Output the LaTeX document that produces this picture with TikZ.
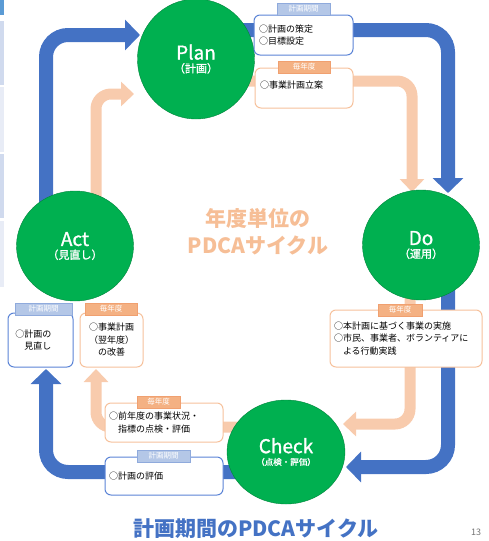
\documentclass[tikz,border=0pt]{standalone}
\usepackage{fontspec}
\setmainfont{Noto Sans CJK JP}
\newfontfamily\phasefont[FakeBold=1.2]{Noto Sans CJK JP}
\usetikzlibrary{arrows.meta,shapes.geometric}
\definecolor{pgreen}{HTML}{00B050}
\definecolor{pblue}{HTML}{4472C4}
\definecolor{porange}{HTML}{F8CBAD}
\definecolor{boxblue}{HTML}{5B84D6}
\definecolor{tagblue}{HTML}{B4C7E7}
\definecolor{tagblueline}{HTML}{8FAADC}
\definecolor{tagorange}{HTML}{F4B183}
\definecolor{tagorangeline}{HTML}{F0A070}
\definecolor{midorange}{HTML}{F6BE96}
\definecolor{stripA}{HTML}{D0DAEE}
\definecolor{stripB}{HTML}{E8ECF6}
\definecolor{stripTop}{HTML}{5B9BD5}
\begin{document}
\begin{tikzpicture}[x=1pt,y=-1pt,
  bluearrow/.style={draw=pblue,line width=14pt,rounded corners=22pt,
    -{Triangle[width=30pt,length=15pt]}},
  orangearrow/.style={draw=porange,line width=11pt,rounded corners=15pt,
    -{Triangle[width=24pt,length=13pt]}},
  phase/.style={ellipse,fill=pgreen,draw=pgreen!75!black,line width=0.4pt,
    text=white,align=center,inner sep=0pt,font=\phasefont},
  bluebox/.style={draw=boxblue,line width=1pt,fill=white,rounded corners=6pt,
    font=\fontsize{9}{12.5}\selectfont,inner sep=0pt},
  orangebox/.style={draw=tagorange!80,line width=1pt,fill=white,rounded corners=6pt,
    font=\fontsize{9}{12.5}\selectfont,inner sep=0pt},
  bluetag/.style={draw=tagblueline,fill=tagblue,text=white,
    font=\fontsize{7.5}{9}\selectfont,inner sep=0pt,minimum height=12pt},
  orangetag/.style={draw=tagorangeline,fill=tagorange,text=white,
    font=\fontsize{7.5}{9}\selectfont,inner sep=0pt,minimum height=12pt}
]
\useasboundingbox (0,0) rectangle (488,541);
% left strip
\fill[stripTop] (0,0) rectangle (4,15);
\fill[stripA] (0,21) rectangle (4,85);
\fill[stripB] (0,87) rectangle (4,152);
\fill[stripA] (0,154) rectangle (4,218);
\fill[stripB] (0,221) rectangle (4,287);

% circle centres
\coordinate (pc) at (196,59);
\coordinate (dc) at (421,245);
\coordinate (ac) at (75,246);
\coordinate (cc) at (286,452);

% arrow corner points
\coordinate (b1s) at (46,215);
\coordinate (b1c) at (46,35);
\coordinate (b1e) at (140,35);
\coordinate (o1s) at (96,210);
\coordinate (o1c) at (96,94);
\coordinate (o1e) at (134,94);
\coordinate (b2s) at (240,30);
\coordinate (b2c) at (448,30);
\coordinate (b2e) at (448,193);
\coordinate (o2s) at (240,81);
\coordinate (o2c) at (412,81);
\coordinate (o2e) at (412,192);
\coordinate (b3s) at (448,280);
\coordinate (b3c) at (448,467);
\coordinate (b3e) at (346,467);
\coordinate (o3s) at (410,290);
\coordinate (o3c) at (410,424);
\coordinate (o3e) at (343,424);
\coordinate (b4s) at (240,472);
\coordinate (b4c) at (46,472);
\coordinate (b4e) at (46,369);
\coordinate (o4s) at (240,427);
\coordinate (o4c) at (96,427);
\coordinate (o4e) at (96,369);

% arrows
\draw[bluearrow] (b1s) -- (b1c) -- (b1e);
\draw[orangearrow] (o1s) -- (o1c) -- (o1e);
\draw[bluearrow] (b2s) -- (b2c) -- (b2e);
\draw[orangearrow] (o2s) -- (o2c) -- (o2e);
\draw[bluearrow] (b3s) -- (b3c) -- (b3e);
\draw[orangearrow] (o3s) -- (o3c) -- (o3e);
\draw[bluearrow] (b4s) -- (b4c) -- (b4e);
\draw[orangearrow] (o4s) -- (o4c) -- (o4e);

% phases
\node[phase,minimum width=117pt,minimum height=120pt] (plan) at (pc)
  {{\fontsize{19}{22}\selectfont Plan}\\[1pt]{\fontsize{11}{13}\selectfont （計画）}};
\node[phase,minimum width=117pt,minimum height=110pt] (do) at (dc)
  {{\fontsize{19}{22}\selectfont Do}\\[1pt]{\fontsize{11}{13}\selectfont （運用）}};
\node[phase,minimum width=117pt,minimum height=110pt] (act) at (ac)
  {{\fontsize{19}{22}\selectfont Act}\\[1pt]{\fontsize{11}{13}\selectfont （見直し）}};
\node[phase,minimum width=118pt,minimum height=104pt] (check) at (cc)
  {{\fontsize{19}{22}\selectfont Check}\\[0pt]{\fontsize{8.5}{10}\selectfont （点検・評価）}};

% boxes near Plan
\node[bluebox,minimum width=99pt,minimum height=40pt,text width=89pt,align=left]
  (pbox1) at (303.5,35) {○計画の策定\\○目標設定};
\node[bluetag,minimum width=53pt] (ptag1) at (303.5,9) {計画期間};
\node[orangebox,minimum width=98pt,minimum height=40pt,text width=88pt,align=left]
  (pbox2) at (304,88) {○事業計画立案\\[-6pt]\mbox{}};
\node[orangetag,minimum width=52pt] (ptag2) at (304,67) {毎年度};

% Do box
\node[orangebox,minimum width=152pt,minimum height=57pt,text width=144pt,align=left]
  (dbox) at (406,338.5) {○本計画に基づく事業の実施\\○市民、事業者、ボランティアに\\　よる行動実践};
\node[orangetag,minimum width=44pt] (dtag) at (400,310) {毎年度};

% Act boxes
\node[bluebox,minimum width=65pt,minimum height=54pt,text width=50pt,align=left]
  (abox1) at (40.5,340) {○計画の\\　見直し};
\node[bluetag,minimum width=57pt] (atag1) at (43.5,309) {計画期間};
\node[orangebox,minimum width=63pt,minimum height=54pt,text width=60pt,align=center]
  (abox2) at (111.5,340) {○事業計画\\（翌年度）\\の改善};
\node[orangetag,minimum width=52pt] (atag2) at (111,309) {毎年度};

% Check boxes
\node[orangebox,minimum width=118pt,minimum height=39pt,text width=110pt,align=left]
  (cbox1) at (164,422.5) {○前年度の事業状況・\\　指標の点検・評価};
\node[orangetag,minimum width=43pt] (ctag1) at (158.5,402) {毎年度};
\node[bluebox,minimum width=118pt,minimum height=38pt,text width=110pt,align=left]
  (cbox2) at (164,476) {○計画の評価};
\node[bluetag,minimum width=53pt] (ctag2) at (163.5,456) {計画期間};

% centre text
\node[text=midorange,font=\bfseries\fontsize{21}{24}\selectfont] (mid1) at (258,218) {年度単位の};
\node[text=midorange,font=\bfseries\fontsize{21}{24}\selectfont] (mid2) at (258,245) {PDCAサイクル};

% title and page number
\node[text=pblue,font=\bfseries\fontsize{21}{24}\selectfont] (title) at (256,529) {計画期間のPDCAサイクル};
\node[text=black!55,font=\fontsize{9}{10}\selectfont] (pagenum) at (476,532) {13};
\end{tikzpicture}
\end{document}
